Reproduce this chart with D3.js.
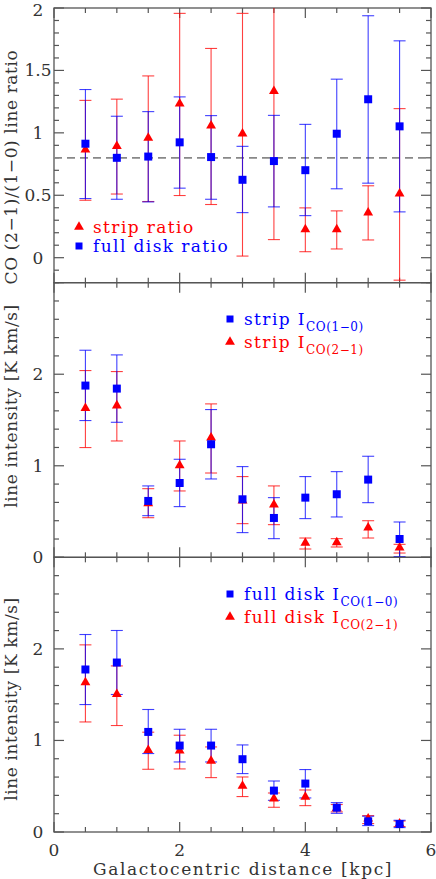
<!DOCTYPE html>
<html>
<head>
  <meta charset="utf-8">
  <title>CO line ratio and intensity</title>
  <script src="https://d3js.org/d3.v7.min.js"></script>
  <style>
    body { margin: 0; background: #fff; }
    text { font-family: 'DejaVu Serif', serif; fill: #333; }
  </style>
</head>
<body>
<div id="chart"></div>

<script type="text/javascript">
  // galactocentric radius of every bin (kpc)
  const radius = [0.5, 1, 1.5, 2, 2.5, 3, 3.5, 4, 4.5, 5, 5.5];

  // top panel: CO(2-1)/(1-0) line ratio
  const stripRatio   = [0.865, 0.894, 0.96, 1.234, 1.058, 0.993, 1.333, 0.227, 0.227, 0.361, 0.512];
  const stripRatioHi = [1.26, 1.27, 1.456, 1.957, 1.676, 1.957, 2.1, 0.399, 0.375, 0.576, 1.194];
  const stripRatioLo = [0.46, 0.51, 0.45, 0.498, 0.426, 0.013, 0.145, 0.048, 0.07, 0.142, -0.18];
  const diskRatio    = [0.913, 0.80, 0.81, 0.924, 0.806, 0.624, 0.774, 0.701, 0.993, 1.269, 1.052];
  const diskRatioHi  = [1.347, 1.133, 1.17, 1.288, 1.138, 0.892, 1.14, 1.068, 1.43, 1.938, 1.737];
  const diskRatioLo  = [0.474, 0.468, 0.447, 0.557, 0.468, 0.361, 0.407, 0.337, 0.552, 0.597, 0.367];
  const meanRatio = 0.8;

  // middle panel: strip intensities (K km/s)
  const strip10   = [1.876, 1.843, 0.616, 0.812, 1.235, 0.634, 0.43, 0.652, 0.689, 0.849, 0.2];
  const strip10Hi = [2.262, 2.211, 0.78, 1.071, 1.614, 0.991, 0.652, 0.882, 0.936, 1.104, 0.386];
  const strip10Lo = [1.494, 1.475, 0.455, 0.554, 0.856, 0.27, 0.204, 0.423, 0.441, 0.597, 0.008];
  const strip21   = [1.628, 1.658, 0.59, 1.005, 1.308, 0.62, 0.576, 0.157, 0.164, 0.324, 0.106];
  const strip21Hi = [2.04, 2.029, 0.75, 1.271, 1.676, 0.882, 0.78, 0.211, 0.204, 0.40, 0.142];
  const strip21Lo = [1.199, 1.271, 0.433, 0.725, 0.921, 0.368, 0.357, 0.091, 0.113, 0.211, 0.047];

  // bottom panel: full disk intensities (K km/s)
  const disk10   = [1.775, 1.851, 1.093, 0.944, 0.944, 0.795, 0.452, 0.529, 0.266, 0.117, 0.087];
  const disk10Hi = [2.157, 2.201, 1.338, 1.122, 1.122, 0.951, 0.557, 0.682, 0.321, 0.172, 0.128];
  const disk10Lo = [1.392, 1.502, 0.857, 0.765, 0.765, 0.638, 0.346, 0.372, 0.204, 0.07, 0.048];
  const disk21   = [1.633, 1.505, 0.893, 0.889, 0.776, 0.503, 0.365, 0.383, 0.26, 0.146, 0.09];
  const disk21Hi = [2.044, 1.814, 1.09, 1.057, 0.929, 0.601, 0.426, 0.459, 0.3, 0.179, 0.12];
  const disk21Lo = [1.202, 1.163, 0.685, 0.689, 0.594, 0.387, 0.27, 0.288, 0.22, 0.092, 0.06];

  const xTickLabels = [0, 2, 4, 6];
  const ratioTicks = [0, 0.5, 1, 1.5, 2];
  const intensityTicks = [0, 1, 2];

  const red = '#ff0000', blue = '#0000ff';

  // each panel: axis range, ticks, label, series, legend
  const panels = [
    {
      domain: [-0.2, 2], minor: 0.1, major: 0.5, ticks: ratioTicks,
      ylabel: 'CO (2\u22121)/(1\u22120) line ratio', ylabelY: 167,
      series: [
        {y: stripRatio, hi: stripRatioHi, lo: stripRatioLo, color: red, shape: 'tri'},
        {y: diskRatio, hi: diskRatioHi, lo: diskRatioLo, color: blue, shape: 'sq'}
      ],
      legend: {x: 79, y: 227, step: 19, items: [
        {shape: 'tri', color: red, text: 'strip ratio'},
        {shape: 'sq', color: blue, text: 'full disk ratio'}
      ]},
      dashed: meanRatio
    },
    {
      domain: [0, 3], minor: 0.2, major: 1, ticks: intensityTicks,
      ylabel: 'line intensity [K km/s]', ylabelY: 406,
      series: [
        {y: strip21, hi: strip21Hi, lo: strip21Lo, color: red, shape: 'tri'},
        {y: strip10, hi: strip10Hi, lo: strip10Lo, color: blue, shape: 'sq'}
      ],
      legend: {x: 230, y: 319, step: 23, items: [
        {shape: 'sq', color: blue, text: 'strip I', sub: 'CO(1\u22120)'},
        {shape: 'tri', color: red, text: 'strip I', sub: 'CO(2\u22121)'}
      ]}
    },
    {
      domain: [0, 3], minor: 0.2, major: 1, ticks: intensityTicks,
      ylabel: 'line intensity [K km/s]', ylabelY: 699,
      series: [
        {y: disk21, hi: disk21Hi, lo: disk21Lo, color: red, shape: 'tri'},
        {y: disk10, hi: disk10Hi, lo: disk10Lo, color: blue, shape: 'sq'}
      ],
      legend: {x: 230, y: 594, step: 23, items: [
        {shape: 'sq', color: blue, text: 'full disk I', sub: 'CO(1\u22120)'},
        {shape: 'tri', color: red, text: 'full disk I', sub: 'CO(2\u22121)'}
      ]}
    }
  ];

  let W = 436, H = 879;
  let margin = {top: 8, left: 54, right: 5};
  let w = W - margin.left - margin.right;
  let ph = (832 - margin.top) / panels.length;
  let frame = '#555';

  let svg = d3.select('#chart')
    .append('svg')
      .attr('width', W)
      .attr('height', H);

  let xScale = d3.scaleLinear().domain([0, 6]).range([margin.left, margin.left + w]);
  let xMinor = d3.range(0, 6.001, 0.5);

  const symbolFor = (shape, size) =>
    d3.symbol().type(shape === 'sq' ? d3.symbolSquare : d3.symbolTriangle).size(size)();

  panels.forEach((p, i) => {
    let top = margin.top + i * ph;
    let yScale = d3.scaleLinear().domain(p.domain).range([top + ph, top]).clamp(true);
    let g = svg.append('g');

    // frame
    g.append('rect')
      .attr('x', margin.left).attr('y', top)
      .attr('width', w).attr('height', ph)
      .attr('fill', 'none').attr('stroke', frame).attr('stroke-width', 1.3);

    // x ticks on bottom and top, pointing in
    xMinor.forEach(v => {
      let len = (Math.abs(v % 2) < 1e-6) ? 10 : 5;
      let x = xScale(v);
      g.append('line').attr('x1', x).attr('x2', x)
        .attr('y1', top + ph).attr('y2', top + ph - len)
        .attr('stroke', frame).attr('stroke-width', 1.2);
      g.append('line').attr('x1', x).attr('x2', x)
        .attr('y1', top).attr('y2', top + len)
        .attr('stroke', frame).attr('stroke-width', 1.2);
    });

    // y ticks on left and right
    let n = Math.round((p.domain[1] - p.domain[0]) / p.minor);
    d3.range(n + 1).forEach(k => {
      let v = p.domain[0] + k * p.minor;
      let r = v / p.major;
      let len = Math.abs(r - Math.round(r)) < 1e-6 ? 10 : 5;
      let y = yScale(v);
      g.append('line').attr('x1', margin.left).attr('x2', margin.left + len)
        .attr('y1', y).attr('y2', y).attr('stroke', frame).attr('stroke-width', 1.2);
      g.append('line').attr('x1', margin.left + w).attr('x2', margin.left + w - len)
        .attr('y1', y).attr('y2', y).attr('stroke', frame).attr('stroke-width', 1.2);
    });

    // y tick labels
    g.selectAll('.ytl')
      .data(p.ticks)
      .enter()
      .append('text')
      .attr('x', 38)
      .attr('y', d => Math.max(yScale(d), 10))
      .attr('dy', '0.35em')
      .attr('text-anchor', 'middle')
      .attr('font-size', '17px')
      .text(d => d);

    // y label
    g.append('text')
      .attr('transform', `translate(17,${p.ylabelY}) rotate(-90)`)
      .attr('text-anchor', 'middle')
      .attr('font-size', '17px')
      .style('letter-spacing', '0.6px')
      .text(p.ylabel);

    if (p.dashed !== undefined) {
      g.append('line')
        .attr('x1', margin.left).attr('x2', margin.left + w)
        .attr('y1', yScale(p.dashed)).attr('y2', yScale(p.dashed))
        .attr('stroke', '#888').attr('stroke-width', 1.8)
        .attr('stroke-dasharray', '8,5');
    }

    // error bars first, then markers
    p.series.forEach(s => {
      let eb = g.append('g')
        .attr('stroke', s.color).attr('stroke-width', 1.1).attr('stroke-opacity', 0.75);
      radius.forEach((r, j) => {
        let x = xScale(r);
        eb.append('line').attr('x1', x).attr('x2', x)
          .attr('y1', yScale(s.lo[j])).attr('y2', yScale(s.hi[j]));
        [s.lo[j], s.hi[j]].forEach(v => {
          if (v > p.domain[1] || v < p.domain[0]) return;
          eb.append('line').attr('x1', x - 6).attr('x2', x + 6)
            .attr('y1', yScale(v)).attr('y2', yScale(v));
        });
      });
    });
    p.series.forEach(s => {
      g.selectAll(null)
        .data(radius)
        .enter()
        .append('path')
        .attr('d', symbolFor(s.shape, s.shape === 'sq' ? 64 : 42))
        .attr('transform', (r, j) => `translate(${xScale(r)},${yScale(s.y[j])})`)
        .attr('fill', s.color);
    });

    // legend
    p.legend.items.forEach((it, k) => {
      let y = p.legend.y + k * p.legend.step;
      g.append('path')
        .attr('d', symbolFor(it.shape, it.shape === 'sq' ? 49 : 42))
        .attr('transform', `translate(${p.legend.x},${y})`)
        .attr('fill', it.color);
      let t = g.append('text')
        .attr('x', p.legend.x + 14)
        .attr('y', y + 6)
        .attr('font-size', '17px')
        .style('letter-spacing', '1.4px')
        .style('fill', it.color);
      t.append('tspan').text(it.text);
      if (it.sub) {
        t.append('tspan').attr('dy', 6).attr('font-size', '12px')
          .style('letter-spacing', '0.6px').text(it.sub);
      }
    });
  });

  // x tick labels and title under the bottom panel
  svg.selectAll('.xtl')
    .data(xTickLabels)
    .enter()
    .append('text')
    .attr('x', d => xScale(d))
    .attr('y', 856)
    .attr('text-anchor', 'middle')
    .attr('font-size', '17px')
    .text(d => d);

  svg.append('text')
    .attr('x', 243)
    .attr('y', 875)
    .attr('text-anchor', 'middle')
    .attr('font-size', '17px')
    .style('letter-spacing', '1.6px')
    .text('Galactocentric distance [kpc]');
</script>
</body>
</html>
